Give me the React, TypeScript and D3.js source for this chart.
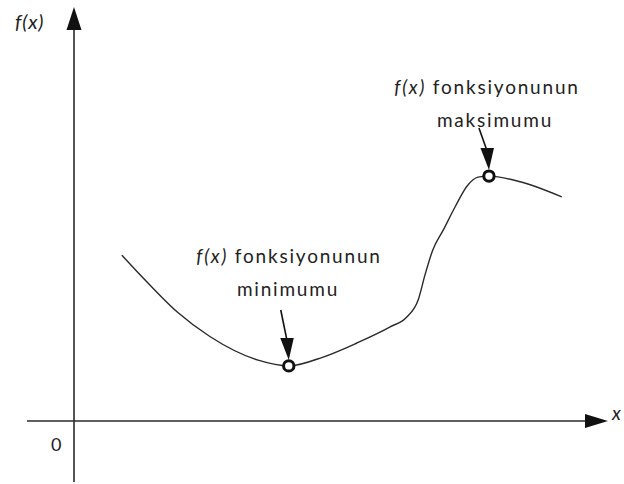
import React from "react";
import * as d3 from "d3";

const curveX = [0.92, 1.33, 1.98, 2.62, 3.54, 4.13, 4.79, 5.44, 6.08, 6.4, 6.62, 6.75, 6.9, 7.1, 7.33, 7.56, 7.77, 7.98, 8.58, 9.38];
const curveY = [3.19, 2.75, 2.1, 1.62, 1.17, 1.06, 1.23, 1.5, 1.81, 2.0, 2.33, 2.81, 3.29, 3.67, 4.12, 4.52, 4.69, 4.71, 4.6, 4.31];
const extremaX = [4.13, 7.98];
const extremaY = [1.06, 4.71];
const extremaLabels = [["fonksiyonunun", "minimumu"], ["fonksiyonunun", "maksimumu"]];

const W = 624;
const H = 484;

export default function App() {
  const x = d3.scaleLinear().domain([0, 10]).range([74, 594]);
  const y = d3.scaleLinear().domain([0, 8]).range([421, 5]);
  const pts: [number, number][] = curveX.map((v, i) => [v, curveY[i]]);
  const line = d3
    .line<[number, number]>()
    .x((d) => x(d[0]))
    .y((d) => y(d[1]))
    .curve(d3.curveMonotoneX);
  const stroke = "#2a2a2a";
  const font = "Lato, 'Open Sans', sans-serif";
  const x0 = x(0);
  const y0 = y(0);

  return (
    <svg
      width={W}
      height={H}
      style={{ position: "absolute", left: 0, top: 0, background: "#fff" }}
      fontFamily={font}
    >
      {/* y axis */}
      <line x1={x0} y1={482} x2={x0} y2={28} stroke={stroke} strokeWidth={1.6} />
      <path d={`M${x0},7 L${x0 - 7.5},30 L${x0 + 7.5},30 Z`} fill="#111" />
      {/* x axis */}
      <line x1={27} y1={y0} x2={587} y2={y0} stroke={stroke} strokeWidth={1.6} />
      <path d={`M608,${y0} L585,${y0 - 7} L585,${y0 + 7} Z`} fill="#111" />
      <text x={15} y={29} fontSize={20} fontStyle="italic" fill="#222" letterSpacing={0.8}>f(x)</text>
      <text x={51} y={451} fontSize={18} fill="#222">0</text>
      <text x={612} y={420} fontSize={19} fontStyle="italic" fill="#222">x</text>

      {/* curve */}
      <path d={line(pts) || ""} fill="none" stroke={stroke} strokeWidth={1.4} />

      {extremaX.map((ex, i) => {
        const cx = x(ex);
        const cy = y(extremaY[i]);
        const c1 = i === 0 ? 289 : 487;
        const c2 = i === 0 ? 288 : 495;
        const ty = i === 0 ? 263 : 94;
        const arrowTop = i === 0 ? 310 : 128;
        const sx = i === 0 ? cx - 8 : cx - 10;
        return (
          <g key={i}>
            <line x1={sx} y1={arrowTop} x2={cx - 1.5} y2={cy - 24} stroke="#111" strokeWidth={1.6} />
            <path
              d={`M${cx},${cy - 6} L${cx - 8.5},${cy - 28} L${cx + 5},${cy - 28} Z`}
              fill="#111"
            />
            <circle cx={cx} cy={cy} r={5.2} fill="#fff" stroke="#111" strokeWidth={3} />
            <text x={c1} y={ty} fontSize={19} fill="#222" textAnchor="middle" letterSpacing={1.8}>
              <tspan fontStyle="italic">f(x)</tspan> {extremaLabels[i][0]}
            </text>
            <text x={c2} y={ty + 33} fontSize={19} fill="#222" textAnchor="middle" letterSpacing={1.8}>
              {extremaLabels[i][1]}
            </text>
          </g>
        );
      })}
    </svg>
  );
}
